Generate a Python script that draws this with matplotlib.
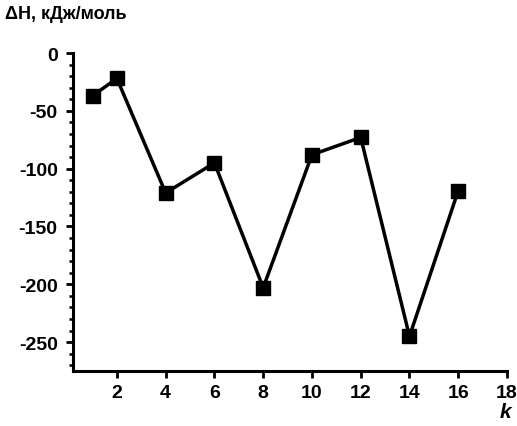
import matplotlib
matplotlib.use('Agg')
import matplotlib.pyplot as plt
from matplotlib.ticker import MultipleLocator

k = [1, 2, 4, 6, 8, 10, 12, 14, 16]
dH = [-37, -22, -121, -95, -203, -88, -73, -245, -119]

plt.rcParams['font.family'] = ['Liberation Sans', 'DejaVu Sans']
plt.rcParams['font.weight'] = 'bold'
plt.rcParams['axes.unicode_minus'] = False

fig = plt.figure(figsize=(5.17, 4.27), dpi=100)
ax = fig.add_axes([0.1412, 0.1288, 0.8395, 0.7447])

ax.plot(k, dH, color='black', lw=2.5, marker='s', markersize=10, zorder=3)

ax.set_xlim(0.2, 18)
ax.set_ylim(-275, 0)
ax.yaxis.set_major_locator(MultipleLocator(50))
ax.yaxis.set_minor_locator(MultipleLocator(10))
ax.set_xticks(range(2, 19, 2))

for s in ['top', 'right']:
    ax.spines[s].set_visible(False)
for s in ['left', 'bottom']:
    ax.spines[s].set_linewidth(2.2)

ax.tick_params(which='major', direction='out', length=5, width=2, labelsize=14)
ax.tick_params(axis='y', which='major', pad=6)
ax.tick_params(axis='x', which='major', pad=4)
ax.tick_params(which='minor', direction='out', length=3, width=1.8)
for lab in ax.get_xticklabels() + ax.get_yticklabels():
    lab.set_fontweight('bold')

fig.text(0.01, 0.985, 'ΔH, кДж/моль', fontsize=13, fontweight='bold', va='top', ha='left')
fig.text(0.977, 0.012, 'k', fontsize=15, fontweight='bold', style='italic', ha='center', va='bottom')

fig.savefig('out.png', dpi=100)
